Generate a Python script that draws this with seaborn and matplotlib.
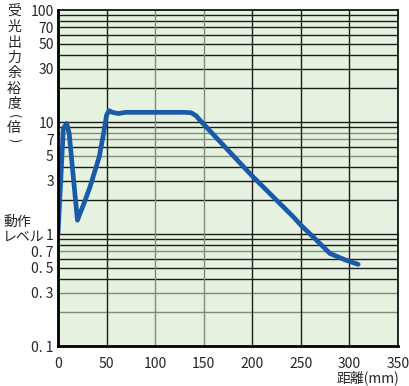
import matplotlib
matplotlib.use("Agg")
import matplotlib.pyplot as plt
import seaborn as sns
import pandas as pd
import numpy as np

# data
distance = [0, 5.5, 9, 11.5, 20, 27, 33, 42.5, 47, 50, 52.5, 56, 62, 70, 100, 130, 137, 142, 146,
            200, 242, 250, 265, 280, 295, 309]
margin = [1.0, 8.8, 9.7, 7.9, 1.33, 1.9, 2.64, 4.9, 8.0, 11.5, 12.6, 12.2, 11.9, 12.2, 12.2, 12.2, 12.1, 11.4, 10.4,
          3.29, 1.43, 1.2, 0.9, 0.67, 0.59, 0.536]
x_ticks = [0, 50, 100, 150, 200, 250, 300, 350]
y_ticks = [0.1, 0.3, 0.5, 0.7, 1, 3, 5, 7, 10, 30, 50, 70, 100]
y_tick_labels = ["0. 1", "0. 3", "0. 5", "0. 7", "1", "3", "5", "7", "10", "30", "50", "70", "100"]
ylabel_chars = ["受", "光", "出", "力", "余", "裕", "度"]

sns.set_style("white")
plt.rcParams['font.family'] = ['Liberation Sans Narrow', 'Noto Sans CJK JP', 'DejaVu Sans']

fig = plt.figure(figsize=(4.10, 3.86), dpi=100)
ax = fig.add_axes([58/410, 40/386, 340/410, 336/386])
ax.set_facecolor('#e4f2df')

ax.set_yscale('log')
ax.set_xlim(0, 350)
ax.set_ylim(0.1, 100)

# grid lines
grey_h = {0.2, 0.3, 0.7, 5, 7, 8}
for dec in [0.1, 1, 10]:
    for m in range(1, 10):
        v = dec * m
        if v <= 0.1 or v >= 100:
            continue
        c = '#7d8c7b' if round(v, 3) in grey_h else '#1c1c1c'
        ax.axhline(v, color=c, lw=1.0, zorder=1)
for xv in [50, 100, 150, 200, 250, 300]:
    c = '#7d8c7b' if xv in (100, 150) else '#1c1c1c'
    ax.axvline(xv, color=c, lw=1.0, zorder=1)

df = pd.DataFrame({'distance': distance, 'margin': margin})
sns.lineplot(data=df, x='distance', y='margin', ax=ax, color='#1a5aa8', lw=3.4,
             sort=False, zorder=3, solid_capstyle='round', solid_joinstyle='round')

ax.set_xticks(x_ticks)
ax.set_xticklabels([str(t) for t in x_ticks], fontsize=10)
ax.set_yticks(y_ticks)
ax.set_yticklabels(y_tick_labels, fontsize=10)
ax.yaxis.set_minor_locator(matplotlib.ticker.NullLocator())
ax.tick_params(axis='y', length=0, pad=3)
ax.tick_params(axis='x', length=0, pad=8)
ax.set_xlabel('')
ax.set_ylabel('')

for s in ['left', 'bottom']:
    ax.spines[s].set_linewidth(2.0)
for s in ['top', 'right']:
    ax.spines[s].set_linewidth(1.2)
for s in ax.spines.values():
    s.set_color('black')
    s.set_zorder(4)

cjk = ['Noto Sans CJK JP', 'DejaVu Sans']
for i, ch in enumerate(ylabel_chars):
    fig.text(14/410, 1 - (12 + 15.3 * i)/386, ch, ha='center', va='center', fontsize=10, family=cjk)
fig.text(14/410, 1 - 116/386, "(", ha='center', va='center', fontsize=9, rotation=-90, family=cjk)
fig.text(14/410, 1 - 128/386, "倍", ha='center', va='center', fontsize=10, family=cjk)
fig.text(14/410, 1 - 140/386, ")", ha='center', va='center', fontsize=9, rotation=-90, family=cjk)

fig.text(3/410, 1 - 222/386, "動作", ha='left', va='center', fontsize=10, family=cjk)
fig.text(3/410, 1 - 237/386, "レベル", ha='left', va='center', fontsize=10, family=cjk)
fig.text(399/410, 1 - 378/386, "距離(mm)", ha='right', va='center', fontsize=10, family=cjk)

fig.savefig('out.png', dpi=100)
